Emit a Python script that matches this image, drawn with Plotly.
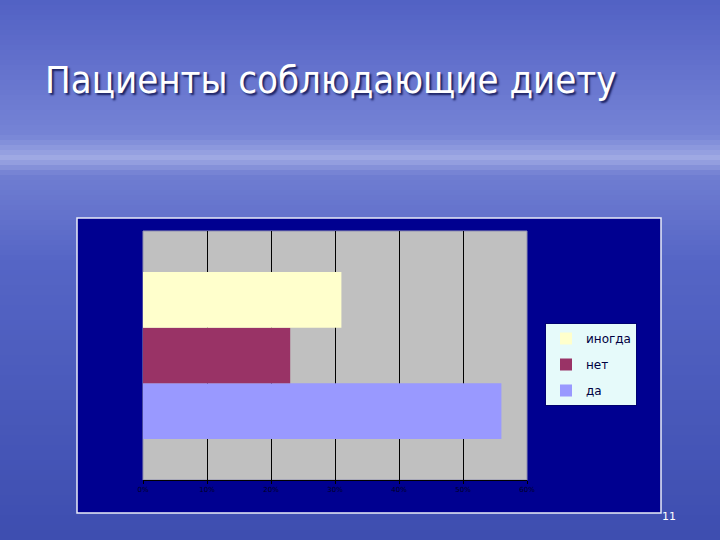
import plotly.graph_objects as go

# Data
categories = [""]
series_names = ["да", "нет", "иногда"]
series_values = [0.56, 0.23, 0.31]
series_colors = ["#9999ff", "#993366", "#ffffcc"]
tick_vals = [0, 0.1, 0.2, 0.3, 0.4, 0.5, 0.6]
tick_text = ["0%", "10%", "20%", "30%", "40%", "50%", "60%"]

W, H = 720, 540
L, R, T, B = 143, 527, 231, 480

def px(x):
    return (x - L) / (R - L)

def py(y):
    return (B - y) / (B - T)

fig = go.Figure()
n = len(series_names)
for i, (name, val, col) in enumerate(zip(series_names, series_values, series_colors)):
    fig.add_trace(go.Bar(y=categories, x=[val], name=name, orientation="h",
                         legendgroup=name, legendrank=1000 + (n - i),
                         marker=dict(color=col, line=dict(width=0))))

shapes = []
# background gradient bands (slide backdrop)
stops = [(0, (82, 98, 196)), (60, (98, 112, 204)), (135, (118, 132, 214)),
         (158, (160, 170, 228)), (175, (112, 126, 210)), (260, (86, 102, 198)),
         (540, (62, 78, 176))]
def col_at(y):
    for (y0, c0), (y1, c1) in zip(stops[:-1], stops[1:]):
        if y0 <= y <= y1:
            t = (y - y0) / (y1 - y0)
            return "rgb(%d,%d,%d)" % tuple(int(a + (b - a) * t) for a, b in zip(c0, c1))
    return "rgb(62,78,176)"
step = 5
for y in range(0, H, step):
    shapes.append(dict(type="rect", xref="paper", yref="paper", layer="below",
                       x0=px(0), x1=px(W), y0=py(y + step), y1=py(y),
                       fillcolor=col_at(y + step / 2), line=dict(width=0)))
# chart area
shapes.append(dict(type="rect", xref="paper", yref="paper", layer="below",
                   x0=px(77), x1=px(661), y0=py(513), y1=py(218),
                   fillcolor="#000090", line=dict(color="#e8ecf8", width=1.5)))
# plot area
shapes.append(dict(type="rect", xref="paper", yref="paper", layer="below",
                   x0=0, x1=1, y0=0, y1=1,
                   fillcolor="#c0c0c0", line=dict(color="#9090b0", width=1)))

fig.update_layout(
    width=W, height=H,
    margin=dict(l=L, r=W - R, t=T, b=H - B),
    paper_bgcolor="#5062c2",
    plot_bgcolor="rgba(0,0,0,0)",
    barmode="group",
    bargap=0.33,
    bargroupgap=0,
    shapes=shapes,
    showlegend=True,
    legend=dict(x=px(545), y=py(323), xanchor="left", yanchor="top",
                traceorder="grouped", bgcolor="#e6fafa",
                bordercolor="#000070", borderwidth=1,
                font=dict(family="DejaVu Sans", size=12, color="#000040"),
                itemwidth=30, tracegroupgap=7),
    xaxis=dict(range=[0, 0.6], tickvals=tick_vals, ticktext=tick_text,
               showgrid=True, gridcolor="#000000", gridwidth=1,
               zeroline=False, showline=True, linecolor="#000000", linewidth=1,
               ticks="outside", ticklen=3, tickcolor="#000000",
               tickfont=dict(family="DejaVu Sans", size=7, color="#000022")),
    yaxis=dict(showticklabels=False, showgrid=False, zeroline=False,
               showline=False, ticks=""),
    annotations=[
        dict(text="Пациенты соблюдающие диету", xref="paper", yref="paper",
             x=px(43), y=py(80), xanchor="left", yanchor="middle", showarrow=False,
             font=dict(family="DejaVu Sans Condensed, DejaVu Sans, sans-serif",
                       size=38, color="#ffffff",
                       shadow="2px 2px 2px #1a2060")),
        dict(text="11", xref="paper", yref="paper",
             x=px(669), y=py(516), xanchor="center", yanchor="middle", showarrow=False,
             font=dict(family="DejaVu Sans", size=11, color="#ffffff")),
    ],
)

fig.write_html("out.html", config={"displayModeBar": False},
               post_script="document.body.style.margin='0';document.body.style.padding='0';")
